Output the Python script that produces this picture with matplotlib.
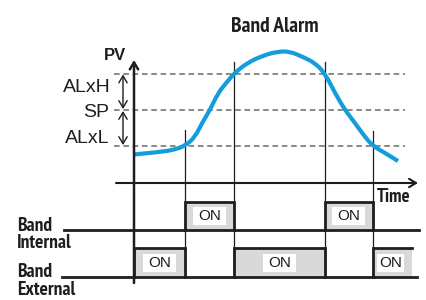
import matplotlib.pyplot as plt
from matplotlib.patches import Rectangle, PathPatch
from matplotlib.path import Path

# Coordenadas (píxeles, eje y hacia abajo)
curva_t = [134, 160, 173, 185, 195, 202, 210, 218, 227, 234, 247, 263, 278,
           290, 303, 315, 325, 335, 345, 355, 365, 373, 385, 398]
curva_pv = [154.5, 152, 150, 146, 137, 123, 110, 93, 82, 73.5, 63, 55.5, 51.5,
            51.5, 57, 63, 73.5, 93, 110, 123, 137, 146, 153, 161]

niveles = {"ALxH": 73.5, "SP": 110, "ALxL": 146}
eventos = [185, 234, 325, 373]
eventos_top = [130, 62, 62, 131]

# Tramos ON de cada salida (inicio, fin)
on_interna = [(185, 234), (325, 373)]
on_externa = [(134, 185), (234, 325), (373, 412)]

AZUL = "#139ddc"
NEGRO = "#1e1e1e"
GRIS = "#d9d9d9"
NARROW = ["PT Sans Narrow", "Roboto Condensed", "Archivo Narrow", "DejaVu Sans"]
SANS = ["Liberation Sans", "DejaVu Sans"]

fig = plt.figure(figsize=(4.27, 3.0), dpi=100)
ax = fig.add_axes([0, 0, 1, 1])
ax.set_xlim(0, 427)
ax.set_ylim(300, 0)
ax.axis("off")

# Líneas de referencia discontinuas
for nombre, y in niveles.items():
    ax.plot([114, 405], [y, y], color="#6b6b6b", lw=1.1,
            linestyle=(0, (3.7, 2.4)), zorder=1)

# Textos de niveles
ax.text(111, 92, "ALxH", ha="right", va="baseline", fontsize=14, family=SANS, color=NEGRO)
ax.text(109, 117, "SP", ha="right", va="baseline", fontsize=14, family=SANS, color=NEGRO)
ax.text(109, 143, "ALxL", ha="right", va="baseline", fontsize=14, family=SANS, color=NEGRO)

# Flechas dobles de la banda
for y0, y1 in [(niveles["ALxH"], niveles["SP"]), (niveles["SP"], niveles["ALxL"])]:
    ax.annotate("", xy=(123, y0 + 1), xytext=(123, y1 - 1),
                arrowprops=dict(arrowstyle="<->,head_length=0.5,head_width=0.3",
                                color=NEGRO, lw=1.0, shrinkA=0, shrinkB=0))

# Eje PV y eje Time
ax.annotate("", xy=(134, 60), xytext=(134, 283),
            arrowprops=dict(arrowstyle="->,head_length=0.5,head_width=0.3",
                            color=NEGRO, lw=1.8, shrinkA=0, shrinkB=0), zorder=5)
ax.annotate("", xy=(418, 183), xytext=(116, 183),
            arrowprops=dict(arrowstyle="->,head_length=0.5,head_width=0.3",
                            color=NEGRO, lw=1.5, shrinkA=0, shrinkB=0), zorder=5)
ax.text(104, 60, "PV", ha="left", va="baseline", fontsize=12, fontweight="bold",
        family=SANS, color=NEGRO)
ax.text(377, 202, "Time", ha="left", va="baseline", fontsize=13.5, fontweight="bold",
        family=NARROW, color=NEGRO)

# Líneas verticales de eventos
for x, top in zip(eventos, eventos_top):
    ax.plot([x, x], [top, 277], color=NEGRO, lw=0.9, zorder=2)

# Curva PV suavizada (B-spline cuadrática sobre los puntos leídos)
pts = list(zip(curva_t, curva_pv))
verts = [pts[0]]
codes = [Path.MOVETO]
for i in range(1, len(pts) - 1):
    medio = ((pts[i][0] + pts[i + 1][0]) / 2, (pts[i][1] + pts[i + 1][1]) / 2)
    if i == len(pts) - 2:
        medio = pts[-1]
    verts += [pts[i], medio]
    codes += [Path.CURVE3, Path.CURVE3]
ax.add_patch(PathPatch(Path(verts, codes), facecolor="none", edgecolor=AZUL,
                       lw=3.0, capstyle="butt", zorder=4))


def salida(base, alto, tramos, fin_linea, inicio_linea):
    ax.plot([inicio_linea, fin_linea], [base, base], color=NEGRO, lw=2.0, zorder=3)
    for x0, x1 in tramos:
        ax.add_patch(Rectangle((x0, alto), x1 - x0, base - alto, facecolor=GRIS,
                               edgecolor="none", zorder=2))
        cerrar = x1 < 410
        xs = [x0, x0, x1, x1] if cerrar else [x0, x0, x1]
        ys = [base, alto, alto, base] if cerrar else [base, alto, alto]
        ax.plot(xs, ys, color=NEGRO, lw=2.0, zorder=3, solid_joinstyle="miter")
        cx = (x0 + x1) / 2 + (0 if cerrar else -2)
        ancho = min(33, x1 - x0 - 12)
        cy = (base + alto) / 2
        ax.add_patch(Rectangle((cx - ancho / 2, cy - 9), ancho, 18, facecolor="white",
                               edgecolor="none", zorder=3))
        ax.text(cx, cy + 0.5, "ON", ha="center", va="center", fontsize=11,
                family=SANS, color=NEGRO, zorder=4)


salida(230, 202, on_interna, 419, 64)
salida(277, 248, on_externa, 417, 62)

# Etiquetas de salidas
for texto, y in [("Band", 231), ("Internal", 248), ("Band", 277), ("External", 295)]:
    ax.text(17, y, texto, ha="left", va="baseline", fontsize=14, fontweight="bold",
            family=NARROW, color=NEGRO)

# Título
ax.text(275, 31.5, "Band Alarm", ha="center", va="baseline", fontsize=15.5,
        fontweight="bold", family=NARROW, color=NEGRO)

fig.savefig("out.png", dpi=100)
